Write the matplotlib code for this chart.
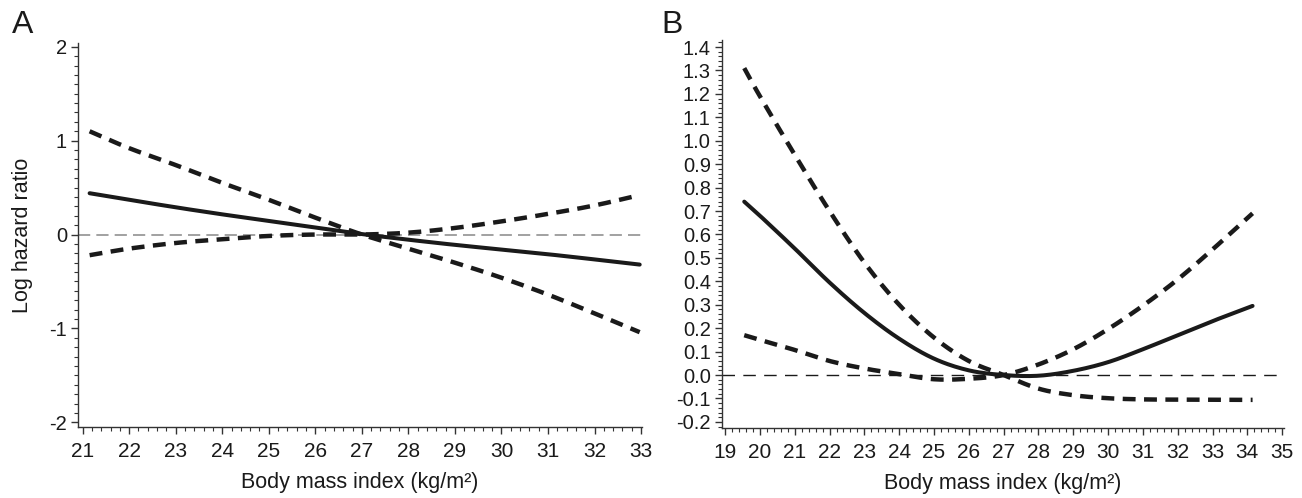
import matplotlib
matplotlib.use('Agg')
import matplotlib.pyplot as plt
from matplotlib.ticker import MultipleLocator, FormatStrFormatter
import numpy as np

plt.rcParams['font.family'] = ['Liberation Sans', 'DejaVu Sans']
plt.rcParams['axes.unicode_minus'] = False

# panel A: BMI vs log hazard ratio
bmi_a = [21.15, 22, 23, 24, 25, 26, 27, 28, 29, 30, 31, 32, 32.97]
est_a = [0.44, 0.37, 0.29, 0.215, 0.145, 0.075, 0.005, -0.055, -0.11, -0.16, -0.21, -0.265, -0.32]
ci1_a = [1.10, 0.92, 0.74, 0.55, 0.37, 0.18, 0.0, -0.15, -0.30, -0.46, -0.64, -0.84, -1.04]
ci2_a = [-0.22, -0.15, -0.09, -0.05, -0.015, 0.0, 0.0, 0.02, 0.07, 0.14, 0.22, 0.31, 0.42]

# panel B
bmi_b = [19.55, 20, 21, 22, 23, 24, 25, 26, 27, 28, 29, 30, 31, 32, 33, 34.15]
est_b = [0.74, 0.68, 0.54, 0.395, 0.265, 0.155, 0.07, 0.02, 0.0, -0.003, 0.018, 0.055, 0.11, 0.17, 0.23, 0.295]
ci1_b = [1.31, 1.19, 0.94, 0.70, 0.48, 0.30, 0.16, 0.06, 0.0, -0.058, -0.086, -0.099, -0.104, -0.105, -0.106, -0.106]
ci2_b = [0.17, 0.15, 0.107, 0.06, 0.028, 0.004, -0.018, -0.016, 0.0, 0.045, 0.11, 0.196, 0.296, 0.408, 0.536, 0.69]


def smooth(x, y, n=20):
    # catmull-rom through the read points, just for drawing
    x = np.asarray(x, float)
    y = np.asarray(y, float)
    px = np.concatenate([[2*x[0]-x[1]], x, [2*x[-1]-x[-2]]])
    py = np.concatenate([[2*y[0]-y[1]], y, [2*y[-1]-y[-2]]])
    xs, ys = [], []
    t = np.linspace(0, 1, n, endpoint=False)
    for i in range(1, len(px)-2):
        for arr, out in ((px, xs), (py, ys)):
            p0, p1, p2, p3 = arr[i-1], arr[i], arr[i+1], arr[i+2]
            out.extend(0.5*((2*p1) + (-p0+p2)*t + (2*p0-5*p1+4*p2-p3)*t**2 + (-p0+3*p1-3*p2+p3)*t**3))
    xs.append(x[-1])
    ys.append(y[-1])
    return np.array(xs), np.array(ys)


fig = plt.figure(figsize=(13.02, 4.98), dpi=100)
axA = fig.add_axes([0.0599, 0.1426, 0.4332, 0.771])
axB = fig.add_axes([0.5545, 0.1406, 0.4316, 0.7791])

dash = (2.9, 1.9)
ink = '#1a1a1a'

def style(ax):
    for s in ['top', 'right']:
        ax.spines[s].set_visible(False)
    for s in ['left', 'bottom']:
        ax.spines[s].set_linewidth(1.0)
        ax.spines[s].set_color('#333333')
    ax.tick_params(which='major', direction='out', length=5, width=1, pad=3, colors='#333333', labelcolor=ink)
    ax.tick_params(which='minor', direction='out', length=3, width=0.8, colors='#333333')
    ax.tick_params(axis='x', which='major', labelsize=15, pad=6)
    ax.tick_params(axis='y', which='major', labelsize=14.5)

xlab = 'Body mass index (kg/m²)'

# A
axA.axhline(0, color='#888888', lw=1.1, ls=(0, (8, 4)))
axA.plot(*smooth(bmi_a, est_a), color=ink, lw=2.9, solid_capstyle='round')
axA.plot(*smooth(bmi_a, ci1_a), color=ink, lw=3.2, ls=(0, dash))
axA.plot(*smooth(bmi_a, ci2_a), color=ink, lw=3.2, ls=(0, dash))
axA.set_xlim(20.9, 33.02)
axA.set_ylim(-2.05, 2.04)
axA.xaxis.set_major_locator(MultipleLocator(1))
axA.xaxis.set_minor_locator(MultipleLocator(0.2))
axA.yaxis.set_major_locator(MultipleLocator(1))
axA.yaxis.set_minor_locator(MultipleLocator(0.1))
style(axA)
axA.set_ylabel('Log hazard ratio', fontsize=15.5, va='center', color=ink)
axA.yaxis.set_label_coords(-0.098, 0.5)
axA.set_xlabel(xlab, fontsize=15.5, va='center', color=ink)
axA.xaxis.set_label_coords(0.5, -0.145)

# B
axB.axhline(0, color=ink, lw=1.0, ls=(0, (9, 6)))
axB.plot(*smooth(bmi_b, est_b), color=ink, lw=2.9, solid_capstyle='round')
axB.plot(*smooth(bmi_b, ci1_b), color=ink, lw=3.2, ls=(0, dash))
axB.plot(*smooth(bmi_b, ci2_b), color=ink, lw=3.2, ls=(0, dash))
axB.set_xlim(18.91, 35.05)
axB.set_ylim(-0.226, 1.43)
axB.xaxis.set_major_locator(MultipleLocator(1))
axB.xaxis.set_minor_locator(MultipleLocator(0.2))
axB.yaxis.set_major_locator(MultipleLocator(0.1))
axB.yaxis.set_minor_locator(MultipleLocator(0.02))
axB.yaxis.set_major_formatter(FormatStrFormatter('%.1f'))
style(axB)
axB.set_xlabel(xlab, fontsize=15.5, va='center', color=ink)
axB.xaxis.set_label_coords(0.5, -0.143)

fig.text(0.009, 0.95, 'A', fontsize=23, va='center', ha='left', color=ink)
fig.text(0.508, 0.95, 'B', fontsize=23, va='center', ha='left', color=ink)

fig.savefig('out.png', dpi=100)
